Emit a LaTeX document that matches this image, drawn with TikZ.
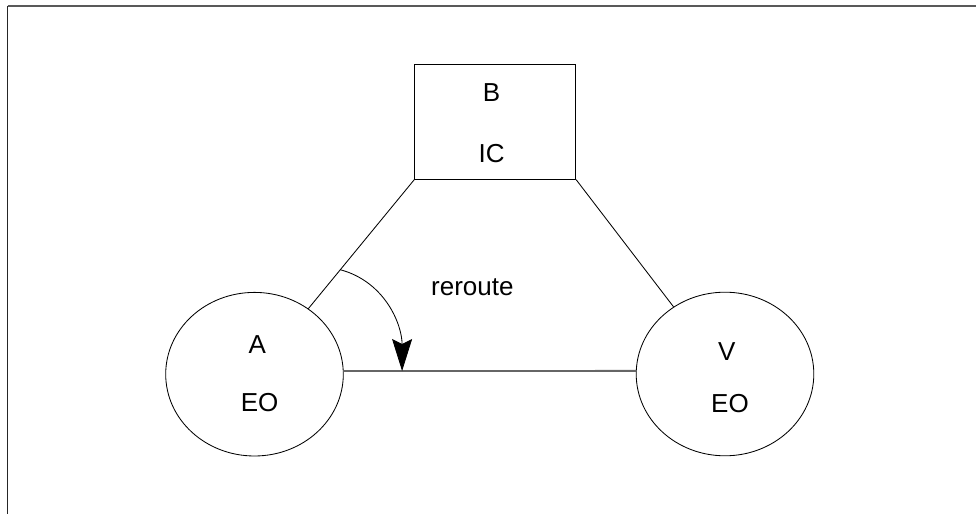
\documentclass[tikz,border=0pt]{standalone}
\usepackage{fontspec}
\setmainfont{Liberation Sans}
\usetikzlibrary{calc,shapes.geometric,arrows.meta}
\tikzset{
	office/.style={draw, ellipse, line width=0.6pt, minimum width=4.44cm, minimum height=4.09cm, inner sep=0pt},
	word/.style={anchor=base, inner sep=0pt, font=\fontsize{18.5}{22}\selectfont}
}

\begin{document}
\begin{tikzpicture}
			%%%%% START %%%%%
			\useasboundingbox (0, 0) rectangle (24.4, 12.85);
			
			\draw[line width=1.6pt, color=black!65] (0.1875, 12.7) -- (24.5, 12.7);
			\draw[line width=1pt, color=black!85] (0.1875, 12.7) -- (0.1875, -0.1);
			
			\node[draw, line width=0.6pt, minimum width=4.025cm, minimum height=2.88cm, inner sep=0pt] (B) at (12.38, 9.809) {};
			\node[word] (B-top) at (12.29, 10.307) {B};
			\node[word] (B-bot) at (12.29, 8.7825) {IC};
			
			\node[office] (A) at (6.3625, 3.495) {};
			\node[word] (A-top) at (6.43, 4.0175) {A};
			\node[word] (A-bot) at (6.49, 2.5625) {EO};
			
			\node[office] (V) at (18.125, 3.5) {};
			\node[word] (V-top) at (18.17, 3.8325) {V};
			\node[word] (V-bot) at (18.25, 2.5375) {EO};
			
			\draw[line width=0.6pt] (B.south west) -- (A);
			\draw[line width=0.6pt] (B.south east) -- (V);
			\draw[line width=1.3pt, color=black!60] (A.2) -- (V.178);
			
			\coordinate (turn) at ($(B.south west)!0.463!(A.center)$);
			\coordinate (land) at ($(A.2)!0.2!(V.178)$);
			\draw[line width=0.6pt, -{Stealth[length=0.8cm, width=0.5cm, inset=0.125cm]}] (turn) to[out=-15, in=90] (land);
			\node[word] (reroute) at (11.81, 5.45) {reroute};
			
			%%%%% END %%%%%
		\end{tikzpicture}
\end{document}
